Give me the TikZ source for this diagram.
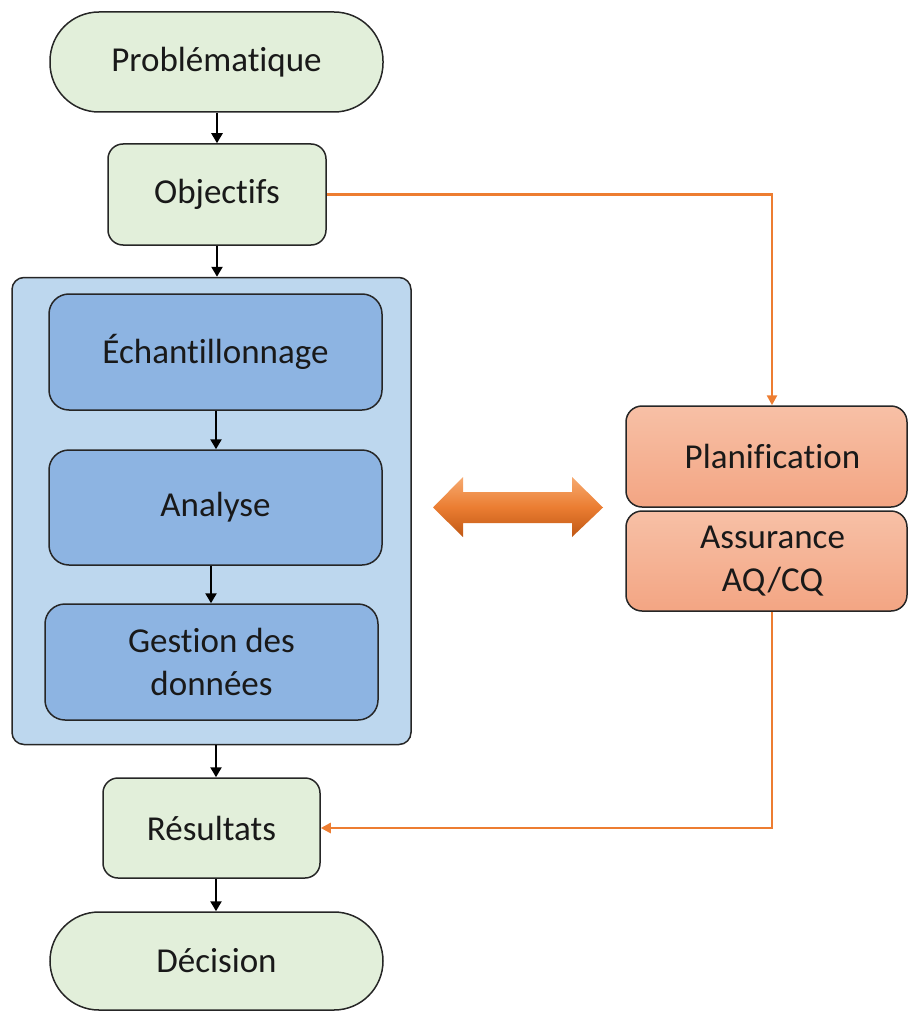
\documentclass[tikz,border=0pt]{standalone}
\usepackage{fontspec}
\setmainfont[Ligatures=NoCommon]{Carlito}
\usetikzlibrary{arrows.meta}
\definecolor{gfill}{RGB}{226,239,218}
\definecolor{cfill}{RGB}{189,215,238}
\definecolor{bfill}{RGB}{141,180,226}
\definecolor{otop}{RGB}{247,192,166}
\definecolor{obot}{RGB}{243,165,131}
\definecolor{oline}{RGB}{237,125,49}
\definecolor{atop}{RGB}{246,170,112}
\definecolor{amid}{RGB}{235,125,50}
\definecolor{abot}{RGB}{192,88,20}
\tikzset{
  base/.style={draw=black!85, line width=1.5pt, inner sep=0pt, align=center,
    font=\fontsize{35}{43}\selectfont, text=black!90},
  stadium/.style={base, fill=gfill, rounded corners=49pt},
  greenbox/.style={base, fill=gfill, rounded corners=15pt},
  container/.style={base, fill=cfill, rounded corners=12pt},
  bluebox/.style={base, fill=bfill, rounded corners=20pt},
  orangebox/.style={base, top color=otop, bottom color=obot, rounded corners=16pt},
  flow/.style={line width=2.3pt, black, -{Triangle[length=10pt,width=11pt]}},
  oflow/.style={line width=2.8pt, oline, -{Triangle[length=10pt,width=10pt]}},
}
\newcommand{\myoffsetsp}{\hspace*{12pt}}
\begin{document}
\begin{tikzpicture}[x=1pt,y=-1pt]
\useasboundingbox (0,0) rectangle (908,1011);
\node[stadium, minimum width=333pt, minimum height=100pt] (prob) at (216.5,62) {Problématique};
\node[greenbox, minimum width=218pt, minimum height=101pt] (obj) at (217,194.5) {Objectifs};
\node[container, minimum width=399pt, minimum height=467pt] (cont) at (211.5,511) {};
\node[bluebox, minimum width=333pt, minimum height=116pt] (ech) at (215.5,352) {Échantillonnage};
\node[bluebox, minimum width=333pt, minimum height=115pt] (ana) at (215.5,507.5) {Analyse};
\node[bluebox, minimum width=333pt, minimum height=116pt] (ges) at (211.5,662) {Gestion des\\données};
\node[greenbox, minimum width=217pt, minimum height=100pt] (res) at (211.5,828) {Résultats};
\node[stadium, minimum width=333pt, minimum height=98pt] (dec) at (216.5,961) {Décision};
\node[orangebox, minimum width=281pt, minimum height=101pt] (plan) at (766.5,456.5) {\myoffsetsp Planification};
\node[orangebox, minimum width=281pt, minimum height=100pt] (ass) at (766.5,561) {\myoffsetsp Assurance\\\myoffsetsp AQ/CQ};

\draw[flow] (prob.south -| 217,0) -- (obj.north -| 217,0);
\draw[flow] (obj.south -| 217,0) -- (cont.north -| 217,0);
\draw[flow] (ech.south -| 216,0) -- (ana.north -| 216,0);
\draw[flow] (ana.south -| 211,0) -- (ges.north -| 211,0);
\draw[flow] (cont.south -| 216,0) -- (res.north -| 216,0);
\draw[flow] (res.south -| 216,0) -- (dec.north -| 216,0);

\coordinate (c1) at (772,194.5);
\coordinate (c2) at (772,828);
\draw[oflow] (obj.east) -- (c1) -- (c1 |- plan.north);
\draw[oflow] (c2 |- ass.south) -- (c2) -- (res.east);

\shade[top color=atop, bottom color=abot, middle color=amid]
  (433,507.5) -- (463,477) -- (463,492) -- (572,492) -- (572,477) -- (603,507.5)
  -- (572,537) -- (572,523) -- (463,523) -- (463,537) -- cycle;
\end{tikzpicture}
\end{document}
